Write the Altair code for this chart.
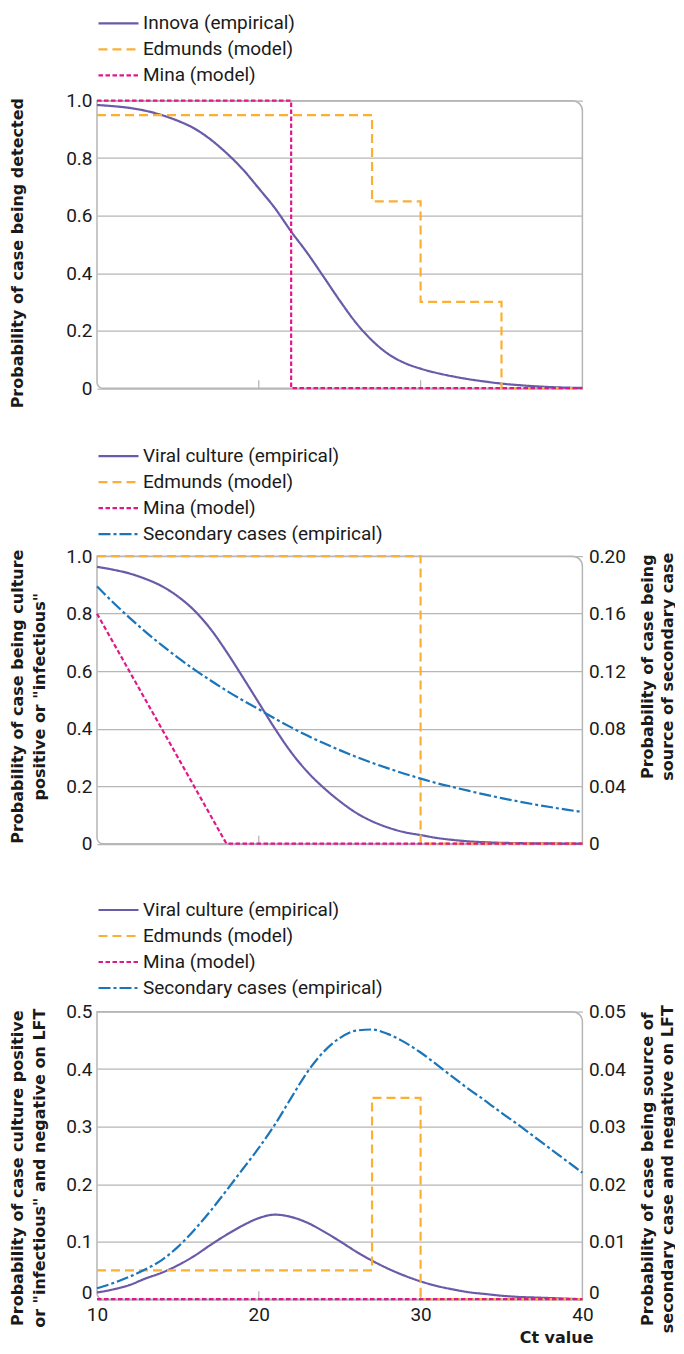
import altair as alt
import pandas as pd

# ---------------- data ----------------
ct = list(range(10, 41))

# Panel 1: probability of case being detected
innova = [0.985, 0.981, 0.975, 0.965, 0.950, 0.930, 0.904, 0.866, 0.818, 0.762, 0.695,
          0.626, 0.545, 0.470, 0.388, 0.305, 0.228, 0.166, 0.119, 0.088, 0.068,
          0.053, 0.041, 0.031, 0.023, 0.016, 0.011, 0.007, 0.004, 0.002, 0.001]
edmunds1_ct = [10, 27, 27, 30, 30, 35, 35, 40]
edmunds1_val = [0.95, 0.95, 0.65, 0.65, 0.30, 0.30, 0.0, 0.0]
mina1_ct = [10, 22, 22, 40]
mina1_val = [1.0, 1.0, 0.0, 0.0]

# Panel 2: probability of case being culture positive / infectious
viral2 = [0.963, 0.953, 0.940, 0.921, 0.896, 0.860, 0.812, 0.748, 0.668, 0.580, 0.490,
          0.400, 0.318, 0.250, 0.195, 0.148, 0.108, 0.078, 0.056, 0.040, 0.030,
          0.020, 0.013, 0.008, 0.005, 0.003, 0.002, 0.001, 0.001, 0.0, 0.0]
edmunds2_ct = [10, 30, 30, 40]
edmunds2_val = [1.0, 1.0, 0.0, 0.0]
mina2_ct = [10, 18, 40]
mina2_val = [0.8, 0.0, 0.0]
secondary2 = [0.179, 0.1678, 0.1573, 0.1474, 0.1381, 0.1294, 0.1213, 0.1137, 0.1065, 0.0998, 0.0935,
              0.0870, 0.0809, 0.0752, 0.0700, 0.0651, 0.0605, 0.0563, 0.0524, 0.0487, 0.0453,
              0.0421, 0.0394, 0.0367, 0.0341, 0.0317, 0.0295, 0.0274, 0.0255, 0.0237, 0.0220]

# Panel 3: ... and negative on LFT
viral3 = [0.0116, 0.0170, 0.0245, 0.036, 0.046, 0.059, 0.075, 0.094, 0.112, 0.128, 0.141,
          0.147, 0.143, 0.133, 0.118, 0.101, 0.083, 0.067, 0.053, 0.041, 0.031,
          0.023, 0.017, 0.012, 0.009, 0.006, 0.004, 0.003, 0.002, 0.001, 0.0]
edmunds3_ct = [10, 27, 27, 30, 30, 40]
edmunds3_val = [0.05, 0.05, 0.35, 0.35, 0.0, 0.0]
mina3_ct = [10, 40]
mina3_val = [0.0, 0.0]
secondary3 = [0.0019, 0.0028, 0.0039, 0.0052, 0.0068, 0.0091, 0.0120, 0.0153, 0.0189, 0.0226, 0.0263,
              0.0304, 0.0350, 0.0395, 0.0430, 0.0454, 0.0467, 0.0469, 0.0461, 0.0447, 0.0429,
              0.0408, 0.0386, 0.0365, 0.0345, 0.0324, 0.0304, 0.0283, 0.0262, 0.0241, 0.0220]

tick_ct = [20, 30]

names1 = ["Innova (empirical)", "Edmunds (model)", "Mina (model)"]
names2 = ["Viral culture (empirical)", "Edmunds (model)", "Mina (model)", "Secondary cases (empirical)"]

# ---------------- styling ----------------
W, H = 485.4, 287.5
TXT = "#1a1a1a"
PURPLE = "#6a5aa8"
ORANGE = "#fbb034"
MAGENTA = "#e0198a"
BLUE = "#1a75bb"
GRID = "#b6b6b6"
colors = [PURPLE, ORANGE, MAGENTA, BLUE]
dashes = [[1, 0], [9, 5], [4.5, 2.5], [12, 3, 3, 3]]


def long_df(items):
    rows = []
    for name, xs, ys in items:
        for i, (x, y) in enumerate(zip(xs, ys)):
            rows.append({"series": name, "ct": x, "value": y, "i": i})
    return pd.DataFrame(rows)


def make_panel(names, emp, models, sec, y_left, y_right, x_axis, legend_y):
    n = len(names)
    legend = alt.Legend(orient="none", legendX=0, legendY=legend_y, direction="vertical",
                        symbolType="stroke", symbolSize=1600, symbolStrokeWidth=2.2,
                        labelFont="Roboto", labelFontSize=19, labelColor=TXT, labelOffset=3,
                        labelLimit=400, rowPadding=6, clipHeight=20, padding=0, title=None)
    color = alt.Color("series:N", scale=alt.Scale(domain=names, range=colors[:n]), legend=legend)
    dash = alt.StrokeDash("series:N", scale=alt.Scale(domain=names, range=dashes[:n]), legend=legend)
    xenc = alt.X("ct:Q", scale=alt.Scale(domain=[10, 40], nice=False, zero=False), axis=x_axis)

    frame = alt.Chart(pd.DataFrame({"f": [0]})).mark_rect(
        fillOpacity=0, stroke=GRID, strokeWidth=1.5,
        cornerRadiusTopRight=10, cornerRadiusBottomLeft=6
    ).encode(x=alt.value(0), x2=alt.value(W), y=alt.value(0), y2=alt.value(H))

    ticks = alt.Chart(pd.DataFrame({"ct": tick_ct})).mark_rule(
        color=GRID, strokeWidth=1.3
    ).encode(x=xenc, y=alt.value(H), y2=alt.value(H - 8))

    emp_chart = alt.Chart(long_df(emp)).mark_line(interpolate="monotone", strokeWidth=2.2).encode(
        x=xenc, y=y_left, color=color, strokeDash=dash, order="i:Q")
    mod_chart = alt.Chart(long_df(models)).mark_line(strokeWidth=2.2).encode(
        x=xenc, y=y_left, color=color, strokeDash=dash, order="i:Q")

    inner = alt.layer(frame, ticks, emp_chart, mod_chart)
    if sec is None:
        return inner.properties(width=W, height=H)
    sec_chart = alt.Chart(long_df(sec)).mark_line(interpolate="monotone", strokeWidth=2.2).encode(
        x=xenc, y=y_right, color=color, strokeDash=dash, order="i:Q")
    return alt.layer(inner, sec_chart).resolve_scale(y="independent").properties(width=W, height=H)


def left_axis(values, fmt, title, title_y, zero_offset=0):
    kw = {}
    if zero_offset:
        kw["labelOffset"] = {"condition": {"test": "datum.value == 0", "value": zero_offset}, "value": 0}
    return alt.Axis(orient="left", values=values,
                    labelExpr="datum.value == 0 ? '0' : format(datum.value, '%s')" % fmt,
                    grid=True, ticks=False, domain=False, labelPadding=5,
                    title=title, titleX=-87, titleY=title_y, titleAngle=270,
                    titleAlign="center", titleBaseline="top", titleLineHeight=22, **kw)


def right_axis(values, fmt, title, title_y, zero_offset=0):
    kw = {}
    if zero_offset:
        kw["labelOffset"] = {"condition": {"test": "datum.value == 0", "value": zero_offset}, "value": 0}
    return alt.Axis(orient="right", values=values,
                    labelExpr="datum.value == 0 ? '0' : format(datum.value, '%s')" % fmt,
                    grid=False, ticks=False, domain=False, labelPadding=6,
                    title=title, titleX=57, titleY=title_y, titleAngle=270,
                    titleAlign="center", titleBaseline="top", titleLineHeight=20, **kw)


# Panel 1
y1 = alt.Y("value:Q", scale=alt.Scale(domain=[0, 1], nice=False),
           axis=left_axis([0, 0.2, 0.4, 0.6, 0.8, 1.0], ".1f",
                          "Probability of case being detected", 152))
p1 = make_panel(names1,
                [(names1[0], ct, innova)],
                [(names1[1], edmunds1_ct, edmunds1_val), (names1[2], mina1_ct, mina1_val)],
                None, y1, None, None, -87.4)

# Panel 2
y2l = alt.Y("value:Q", scale=alt.Scale(domain=[0, 1], nice=False),
            axis=left_axis([0, 0.2, 0.4, 0.6, 0.8, 1.0], ".1f",
                           ["Probability of case being culture", 'positive or "infectious"'], 140))
y2r = alt.Y("value:Q", scale=alt.Scale(domain=[0, 0.2], nice=False),
            axis=right_axis([0, 0.04, 0.08, 0.12, 0.16, 0.20], ".2f",
                            ["Probability of case being", "source of secondary case"], 110))
p2 = make_panel(names2,
                [(names2[0], ct, viral2)],
                [(names2[1], edmunds2_ct, edmunds2_val), (names2[2], mina2_ct, mina2_val)],
                [(names2[3], ct, secondary2)], y2l, y2r, None, -110)

# Panel 3
x3 = alt.Axis(values=[10, 20, 30, 40], format="d", grid=False, ticks=False, domain=False,
              labelPadding=6, labelFlush=False, title="Ct value", titleX=496, titleY=43,
              titleAlign="right", titleBaseline="alphabetic", titleAngle=0)
y3l = alt.Y("value:Q", scale=alt.Scale(domain=[0, 0.5], nice=False),
            axis=left_axis([0, 0.1, 0.2, 0.3, 0.4, 0.5], ".1f",
                           ["Probability of case culture positive",
                            'or "infectious" and negative on LFT'], 156, -7))
y3r = alt.Y("value:Q", scale=alt.Scale(domain=[0, 0.05], nice=False),
            axis=right_axis([0, 0.01, 0.02, 0.03, 0.04, 0.05], ".2f",
                            ["Probability of case being source of",
                             "secondary case and negative on LFT"], 157, -7))
p3 = make_panel(names2,
                [(names2[0], ct, viral3)],
                [(names2[1], edmunds3_ct, edmunds3_val), (names2[2], mina3_ct, mina3_val)],
                [(names2[3], ct, secondary3)], y3l, y3r, x3, -111.7)

chart = alt.vconcat(p1, p2, p3, spacing=167.5, bounds="flush").resolve_scale(
    color="independent", strokeDash="independent"
).properties(
    padding={"left": 2, "top": 4.7, "right": 0, "bottom": 0}, background="white"
).configure_axis(
    labelFont="Roboto", labelFontSize=19, labelColor=TXT,
    titleFont="DejaVu Sans", titleFontSize=16, titleFontWeight="bold", titleColor=TXT,
    gridColor=GRID, gridWidth=1.3
).configure_view(strokeWidth=0)

chart.save("out.html", embed_options={"renderer": "svg", "actions": False})
